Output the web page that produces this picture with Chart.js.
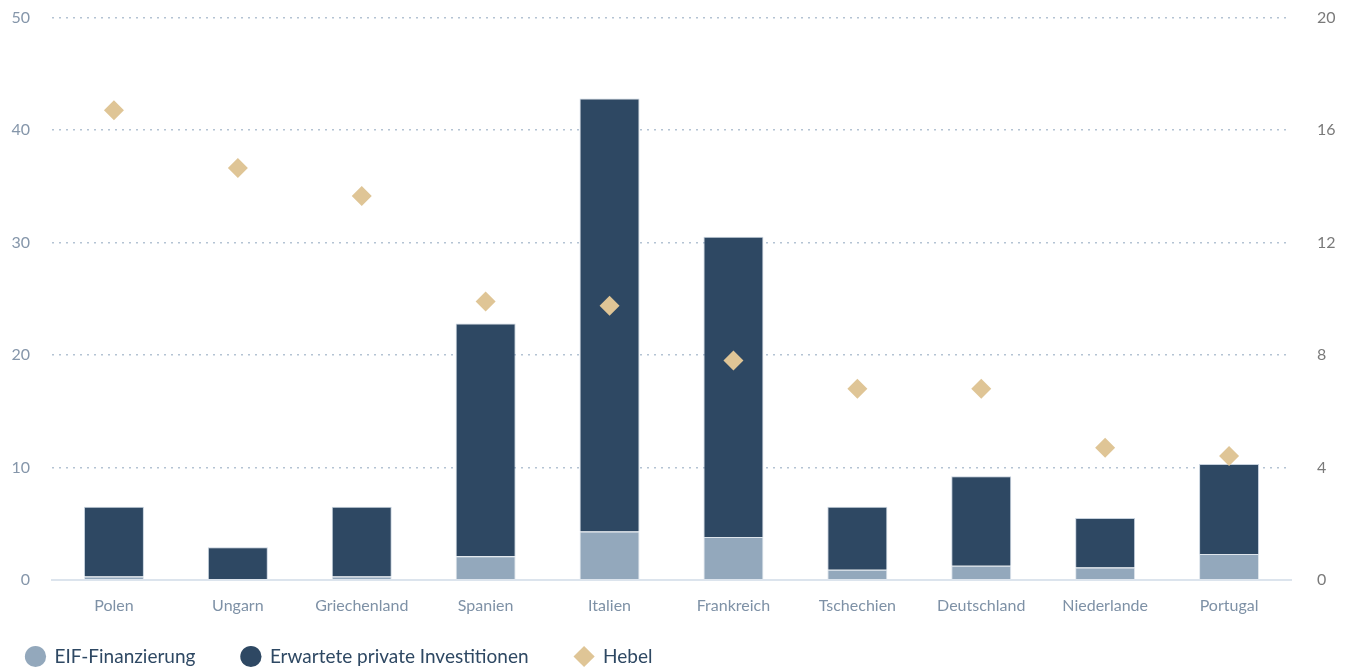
<!DOCTYPE html>
<html>
<head>
<meta charset="utf-8">
<script src="https://cdn.jsdelivr.net/npm/chart.js@4"></script>
<style>
  html, body { margin: 0; padding: 0; background: #ffffff; }
  #wrap { width: 1352px; height: 671px; position: relative; }
</style>
</head>
<body>
<div id="wrap"><canvas id="c"></canvas></div>
<script>
const categories = ["Polen", "Ungarn", "Griechenland", "Spanien", "Italien", "Frankreich", "Tschechien", "Deutschland", "Niederlande", "Portugal"];
const eifFinanzierung = [0.3, 0.0, 0.3, 2.1, 4.3, 3.8, 0.9, 1.25, 1.1, 2.3];
const privateInvestitionen = [6.2, 2.9, 6.2, 20.7, 38.5, 26.7, 5.6, 7.95, 4.4, 8.0];
const hebel = [16.7, 14.65, 13.65, 9.9, 9.75, 7.8, 6.8, 6.8, 4.7, 4.4];
const leftTicks = [0, 10, 20, 30, 40, 50];
const rightTicks = [0, 4, 8, 12, 16, 20];

const FONT = "Lato, 'Open Sans', sans-serif";

const legendShift = {
  id: 'legendShift',
  afterLayout(chart) {
    if (chart.legend) {
      chart.legend.left -= 20;
      chart.legend.top -= 30;
    }
  }
};

new Chart(document.getElementById('c'), {
  data: {
    labels: categories,
    datasets: [
      {
        type: 'bar',
        label: 'EIF-Finanzierung',
        data: eifFinanzierung,
        backgroundColor: '#93a8bc',
        borderColor: 'rgba(200,212,224,0.6)',
        borderWidth: 1,
        yAxisID: 'y',
        stack: 's',
        order: 2,
        categoryPercentage: 1,
        barPercentage: 0.484
      },
      {
        type: 'bar',
        label: 'Erwartete private Investitionen',
        data: privateInvestitionen,
        backgroundColor: '#2e4863',
        borderColor: 'rgba(160,178,198,0.6)',
        borderWidth: 1,
        yAxisID: 'y',
        stack: 's',
        order: 2,
        categoryPercentage: 1,
        barPercentage: 0.484
      },
      {
        type: 'line',
        label: 'Hebel',
        data: hebel,
        yAxisID: 'y1',
        showLine: false,
        pointStyle: 'rectRot',
        pointRadius: 10,
        pointHoverRadius: 10,
        backgroundColor: '#dfc596',
        borderColor: '#dfc596',
        pointBorderWidth: 0,
        order: 0
      }
    ]
  },
  options: {
    responsive: true,
    maintainAspectRatio: false,
    animation: false,
    layout: { padding: { top: 8, left: 0, right: 10, bottom: 0 } },
    plugins: {
      tooltip: { enabled: false },
      legend: {
        position: 'bottom',
        align: 'start',
        maxHeight: 40,
        labels: {
          usePointStyle: true,
          boxWidth: 21,
          boxHeight: 15,
          padding: 46,
          color: '#2e4863',
          font: { family: FONT, size: 19 },
          sort: (a, b) => a.datasetIndex - b.datasetIndex,
          generateLabels(chart) {
            const items = Chart.defaults.plugins.legend.labels.generateLabels(chart);
            items.forEach((it) => {
              it.pointStyle = it.datasetIndex === 2 ? 'rectRot' : 'circle';
              it.lineWidth = 0;
              it.strokeStyle = 'rgba(0,0,0,0)';
            });
            return items;
          }
        }
      }
    },
    scales: {
      x: {
        stacked: true,
        grid: { display: false, drawTicks: false },
        border: { display: true, color: '#dce4ed', width: 2 },
        ticks: { color: '#7e91a6', font: { family: FONT, size: 16 }, padding: 16 }
      },
      y: {
        position: 'left',
        stacked: true,
        min: 0,
        max: 50,
        afterBuildTicks(scale) { scale.ticks = leftTicks.map(v => ({ value: v })); },
        afterFit(scale) { scale.width = 52; },
        grid: {
          color: '#b4c3d3',
          lineWidth: 1.5,
          drawTicks: true,
          tickLength: 14,
          tickColor: 'rgba(0,0,0,0)'
        },
        border: { display: false, dash: [2, 5] },
        ticks: { color: '#8596aa', font: { family: FONT, size: 16 }, padding: 8 }
      },
      y1: {
        position: 'right',
        stacked: false,
        min: 0,
        max: 20,
        afterBuildTicks(scale) { scale.ticks = rightTicks.map(v => ({ value: v })); },
        afterFit(scale) { scale.width = 51; },
        grid: {
          display: true,
          drawOnChartArea: false,
          drawTicks: true,
          tickLength: 18,
          tickColor: 'rgba(0,0,0,0)'
        },
        border: { display: false },
        ticks: { color: '#7a7a7a', font: { family: FONT, size: 16 }, padding: 8 }
      }
    }
  },
  plugins: [legendShift]
});
</script>
</body>
</html>
